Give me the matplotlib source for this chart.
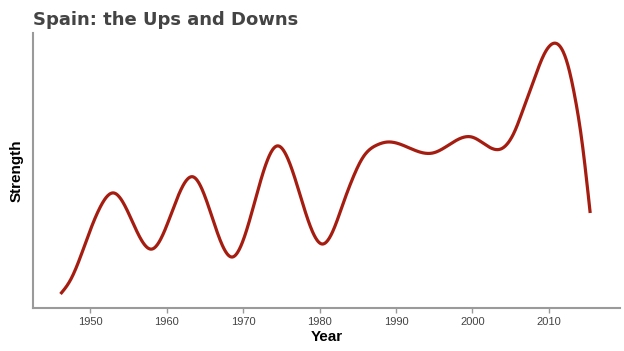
import numpy as np
import matplotlib
matplotlib.use("Agg")
import matplotlib.pyplot as plt

# Points (year, strength in arbitrary units)
years = [1946.1, 1947.4, 1948.7, 1950.0, 1951.3, 1953.1, 1958.1, 1963.5,
         1968.6, 1974.4, 1980.3, 1981.8, 1983.1, 1984.4, 1985.7, 1987.5,
         1988.9, 1994.8, 1999.9, 2003.7, 2005.6, 2006.6, 2007.9, 2009.2,
         2010.4, 2012.4, 2013.4, 2014.3, 2015.4]
strength = [14, 28, 51, 78, 101, 115, 59, 131,
            51, 162, 64, 78, 105, 131, 151, 163,
            166, 155, 171, 159, 178, 198, 225, 251,
            264, 245, 211, 168, 95]
xticks = [1950, 1960, 1970, 1980, 1990, 2000, 2010]


def spline(x, y, xs):
    """Natural cubic spline used only to draw a smooth line."""
    x = np.asarray(x, float); y = np.asarray(y, float)
    n = len(x); h = np.diff(x)
    A = np.zeros((n, n)); r = np.zeros(n)
    A[0, 0] = 1; A[-1, -1] = 1
    for i in range(1, n - 1):
        A[i, i - 1] = h[i - 1]
        A[i, i] = 2 * (h[i - 1] + h[i])
        A[i, i + 1] = h[i]
        r[i] = 6 * ((y[i + 1] - y[i]) / h[i] - (y[i] - y[i - 1]) / h[i - 1])
    M = np.linalg.solve(A, r)
    idx = np.clip(np.searchsorted(x, xs) - 1, 0, n - 2)
    hi = h[idx]; a = x[idx + 1] - xs; b = xs - x[idx]
    return (M[idx] * a**3 / (6 * hi) + M[idx + 1] * b**3 / (6 * hi)
            + (y[idx] / hi - M[idx] * hi / 6) * a
            + (y[idx + 1] / hi - M[idx + 1] * hi / 6) * b)


fig = plt.figure(figsize=(6.24, 3.51), dpi=100)
ax = fig.add_axes([33 / 624, 43 / 351, 587 / 624, 275 / 351])

xs = np.linspace(years[0], years[-1], 1000)
ax.plot(xs, spline(years, strength, xs), color="#a51d10", lw=2.3,
        solid_capstyle="butt")

ax.set_xlim(1942.5, 2019.3)
ax.set_ylim(0, 275)
ax.set_yticks([])
ax.set_xticks(xticks)
ax.set_xticklabels([str(t) for t in xticks], family="Liberation Sans",
                   fontsize=8, color="#444444")
ax.tick_params(axis="x", length=3.5, width=1, color="#999999", pad=3)
for s in ["top", "right"]:
    ax.spines[s].set_visible(False)
for s in ["left", "bottom"]:
    ax.spines[s].set_color("#9a9a9a")
    ax.spines[s].set_linewidth(1.5)

ax.set_xlabel("Year", family="Liberation Sans", fontsize=11,
              fontweight="bold", color="black", labelpad=2)
ax.set_ylabel("Strength", family="Liberation Sans", fontsize=11,
              fontweight="bold", color="black", labelpad=7)

fig.text(33 / 624, 1 - 25 / 351, "Spain: the Ups and Downs",
         family="DejaVu Sans", fontsize=13, fontweight="bold",
         color="#444444", ha="left", va="baseline")

fig.savefig("out.png", dpi=100)
